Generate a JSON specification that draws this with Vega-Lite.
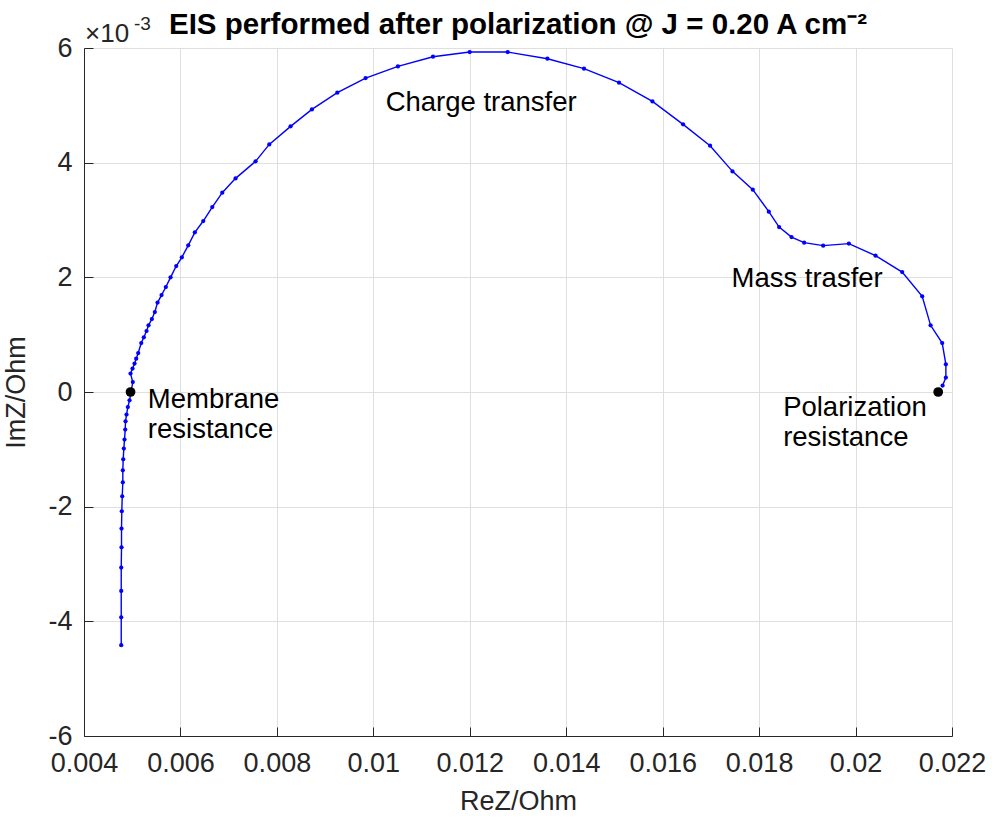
{
  "$schema": "https://vega.github.io/schema/vega-lite/v6.json",
  "width": 868,
  "height": 688,
  "autosize": "none",
  "padding": {"left": 84, "top": 48, "right": 40, "bottom": 85},
  "background": "white",
  "view": {"stroke": null},
  "config": {
    "font": "Liberation Sans",
    "axis": {
      "domainColor": "#262626",
      "tickColor": "#262626",
      "labelColor": "#262626",
      "titleColor": "#262626",
      "gridColor": "#dfdfdf",
      "gridWidth": 1,
      "labelFont": "Liberation Sans",
      "titleFont": "Liberation Sans",
      "labelFontSize": 27,
      "titleFontSize": 27,
      "titleFontWeight": "normal",
      "tickSize": -9,
      "labelOverlap": false,
      "labelFlush": false
    }
  },
  "title": {
    "text": "EIS performed after polarization @ J = 0.20 A cm⁻²",
    "font": "Liberation Sans",
    "fontSize": 29.5,
    "fontWeight": "bold",
    "color": "black",
    "anchor": "middle",
    "baseline": "alphabetic",
    "offset": -48
  },
  "layer": [
    {
      "data": {
        "values": [
          {"i": 1, "ReZ": 0.004772, "ImZ": -0.004417},
          {"i": 2, "ReZ": 0.004772, "ImZ": -0.003929},
          {"i": 3, "ReZ": 0.004772, "ImZ": -0.003470},
          {"i": 4, "ReZ": 0.004772, "ImZ": -0.003062},
          {"i": 5, "ReZ": 0.004778, "ImZ": -0.002708},
          {"i": 6, "ReZ": 0.004778, "ImZ": -0.002382},
          {"i": 7, "ReZ": 0.004784, "ImZ": -0.002080},
          {"i": 8, "ReZ": 0.004793, "ImZ": -0.001819},
          {"i": 9, "ReZ": 0.004805, "ImZ": -0.001575},
          {"i": 10, "ReZ": 0.004805, "ImZ": -0.001365},
          {"i": 11, "ReZ": 0.004813, "ImZ": -0.001174},
          {"i": 12, "ReZ": 0.004826, "ImZ": -0.000987},
          {"i": 13, "ReZ": 0.004840, "ImZ": -0.000830},
          {"i": 14, "ReZ": 0.004855, "ImZ": -0.000656},
          {"i": 15, "ReZ": 0.004861, "ImZ": -0.000511},
          {"i": 16, "ReZ": 0.004882, "ImZ": -0.000394},
          {"i": 17, "ReZ": 0.004909, "ImZ": -0.000262},
          {"i": 18, "ReZ": 0.004944, "ImZ": -0.000145},
          {"i": 19, "ReZ": 0.005012, "ImZ": 0.000174},
          {"i": 20, "ReZ": 0.004965, "ImZ": 0.000321},
          {"i": 21, "ReZ": 0.005006, "ImZ": 0.000408},
          {"i": 22, "ReZ": 0.005048, "ImZ": 0.000495},
          {"i": 23, "ReZ": 0.005083, "ImZ": 0.000582},
          {"i": 24, "ReZ": 0.005124, "ImZ": 0.000680},
          {"i": 25, "ReZ": 0.005187, "ImZ": 0.000854},
          {"i": 26, "ReZ": 0.005241, "ImZ": 0.000954},
          {"i": 27, "ReZ": 0.005297, "ImZ": 0.001064},
          {"i": 28, "ReZ": 0.005338, "ImZ": 0.001163},
          {"i": 29, "ReZ": 0.005407, "ImZ": 0.001273},
          {"i": 30, "ReZ": 0.005469, "ImZ": 0.001395},
          {"i": 31, "ReZ": 0.005525, "ImZ": 0.001559},
          {"i": 32, "ReZ": 0.005608, "ImZ": 0.001691},
          {"i": 33, "ReZ": 0.005697, "ImZ": 0.001831},
          {"i": 34, "ReZ": 0.005795, "ImZ": 0.002000},
          {"i": 35, "ReZ": 0.005913, "ImZ": 0.002197},
          {"i": 36, "ReZ": 0.006029, "ImZ": 0.002349},
          {"i": 37, "ReZ": 0.006162, "ImZ": 0.002558},
          {"i": 38, "ReZ": 0.006299, "ImZ": 0.002785},
          {"i": 39, "ReZ": 0.006473, "ImZ": 0.002982},
          {"i": 40, "ReZ": 0.006660, "ImZ": 0.003226},
          {"i": 41, "ReZ": 0.006867, "ImZ": 0.003477},
          {"i": 42, "ReZ": 0.007143, "ImZ": 0.003726},
          {"i": 43, "ReZ": 0.007558, "ImZ": 0.004023},
          {"i": 44, "ReZ": 0.007842, "ImZ": 0.004319},
          {"i": 45, "ReZ": 0.008284, "ImZ": 0.004633},
          {"i": 46, "ReZ": 0.008726, "ImZ": 0.004929},
          {"i": 47, "ReZ": 0.009253, "ImZ": 0.005221},
          {"i": 48, "ReZ": 0.009840, "ImZ": 0.005475},
          {"i": 49, "ReZ": 0.010510, "ImZ": 0.005679},
          {"i": 50, "ReZ": 0.011237, "ImZ": 0.005848},
          {"i": 51, "ReZ": 0.011998, "ImZ": 0.005929},
          {"i": 52, "ReZ": 0.012786, "ImZ": 0.005929},
          {"i": 53, "ReZ": 0.013610, "ImZ": 0.005813},
          {"i": 54, "ReZ": 0.014369, "ImZ": 0.005639},
          {"i": 55, "ReZ": 0.015095, "ImZ": 0.005395},
          {"i": 56, "ReZ": 0.015788, "ImZ": 0.005069},
          {"i": 57, "ReZ": 0.016423, "ImZ": 0.004668},
          {"i": 58, "ReZ": 0.016983, "ImZ": 0.004296},
          {"i": 59, "ReZ": 0.017448, "ImZ": 0.003848},
          {"i": 60, "ReZ": 0.017869, "ImZ": 0.003529},
          {"i": 61, "ReZ": 0.018201, "ImZ": 0.003146},
          {"i": 62, "ReZ": 0.018415, "ImZ": 0.002877},
          {"i": 63, "ReZ": 0.018672, "ImZ": 0.002703},
          {"i": 64, "ReZ": 0.018934, "ImZ": 0.002605},
          {"i": 65, "ReZ": 0.019328, "ImZ": 0.002553},
          {"i": 66, "ReZ": 0.019861, "ImZ": 0.002588},
          {"i": 67, "ReZ": 0.020415, "ImZ": 0.002378},
          {"i": 68, "ReZ": 0.020967, "ImZ": 0.002092},
          {"i": 69, "ReZ": 0.021382, "ImZ": 0.001669},
          {"i": 70, "ReZ": 0.021556, "ImZ": 0.001163},
          {"i": 71, "ReZ": 0.021797, "ImZ": 0.000854},
          {"i": 72, "ReZ": 0.021873, "ImZ": 0.000483},
          {"i": 73, "ReZ": 0.021873, "ImZ": 0.000251},
          {"i": 74, "ReZ": 0.021805, "ImZ": 0.000112}
        ]
      },
      "mark": {
        "type": "line",
        "color": "#0000ff",
        "strokeWidth": 1.4,
        "point": {"filled": true, "size": 18, "color": "#0000ff"}
      },
      "encoding": {
        "x": {
          "field": "ReZ",
          "type": "quantitative",
          "scale": {"domain": [0.004, 0.022], "nice": false, "zero": false},
          "axis": {
            "title": "ReZ/Ohm",
            "values": [0.004, 0.006, 0.008, 0.01, 0.012, 0.014, 0.016, 0.018, 0.02, 0.022],
            "format": "~g",
            "labelPadding": 23,
            "titlePadding": 12
          }
        },
        "y": {
          "field": "ImZ",
          "type": "quantitative",
          "scale": {"domain": [-0.006, 0.006], "nice": false, "zero": false},
          "axis": {
            "title": "ImZ/Ohm",
            "values": [-0.006, -0.004, -0.002, 0, 0.002, 0.004, 0.006],
            "labelExpr": "toString(round(datum.value * 1000))",
            "labelPadding": 21,
            "titlePadding": 17
          }
        },
        "order": {"field": "i", "type": "quantitative"}
      }
    },
    {
      "data": {
        "values": [
          {"ReZ": 0.004965, "ImZ": 0.0},
          {"ReZ": 0.021714, "ImZ": 0.0}
        ]
      },
      "mark": {"type": "point", "filled": true, "color": "black", "size": 95, "opacity": 1},
      "encoding": {
        "x": {"field": "ReZ", "type": "quantitative"},
        "y": {"field": "ImZ", "type": "quantitative"}
      }
    },
    {
      "data": {
        "values": [
          {"label": "Charge transfer", "ReZ": 0.010255, "ImZ": 0.004895},
          {"label": "Mass trasfer", "ReZ": 0.017427, "ImZ": 0.001831},
          {"label": "Membrane\nresistance", "ReZ": 0.005324, "ImZ": -0.000272},
          {"label": "Polarization\nresistance", "ReZ": 0.018498, "ImZ": -0.000418}
        ]
      },
      "mark": {
        "type": "text",
        "align": "left",
        "baseline": "alphabetic",
        "font": "Liberation Sans",
        "fontSize": 27.5,
        "color": "black",
        "lineBreak": "\n",
        "lineHeight": 30
      },
      "encoding": {
        "x": {"field": "ReZ", "type": "quantitative"},
        "y": {"field": "ImZ", "type": "quantitative"},
        "text": {"field": "label"}
      }
    },
    {
      "data": {"values": [{"label": "×10", "ReZ": 0.004, "ImZ": 0.006}]},
      "mark": {
        "type": "text",
        "align": "left",
        "baseline": "alphabetic",
        "font": "Liberation Sans",
        "fontSize": 26,
        "color": "#262626",
        "dx": 1,
        "dy": -6,
        "clip": false
      },
      "encoding": {
        "x": {"field": "ReZ", "type": "quantitative"},
        "y": {"field": "ImZ", "type": "quantitative"},
        "text": {"field": "label"}
      }
    },
    {
      "data": {"values": [{"label": "-3", "ReZ": 0.004, "ImZ": 0.006}]},
      "mark": {
        "type": "text",
        "align": "left",
        "baseline": "alphabetic",
        "font": "Liberation Sans",
        "fontSize": 19,
        "color": "#262626",
        "dx": 50,
        "dy": -18,
        "clip": false
      },
      "encoding": {
        "x": {"field": "ReZ", "type": "quantitative"},
        "y": {"field": "ImZ", "type": "quantitative"},
        "text": {"field": "label"}
      }
    }
  ]
}
